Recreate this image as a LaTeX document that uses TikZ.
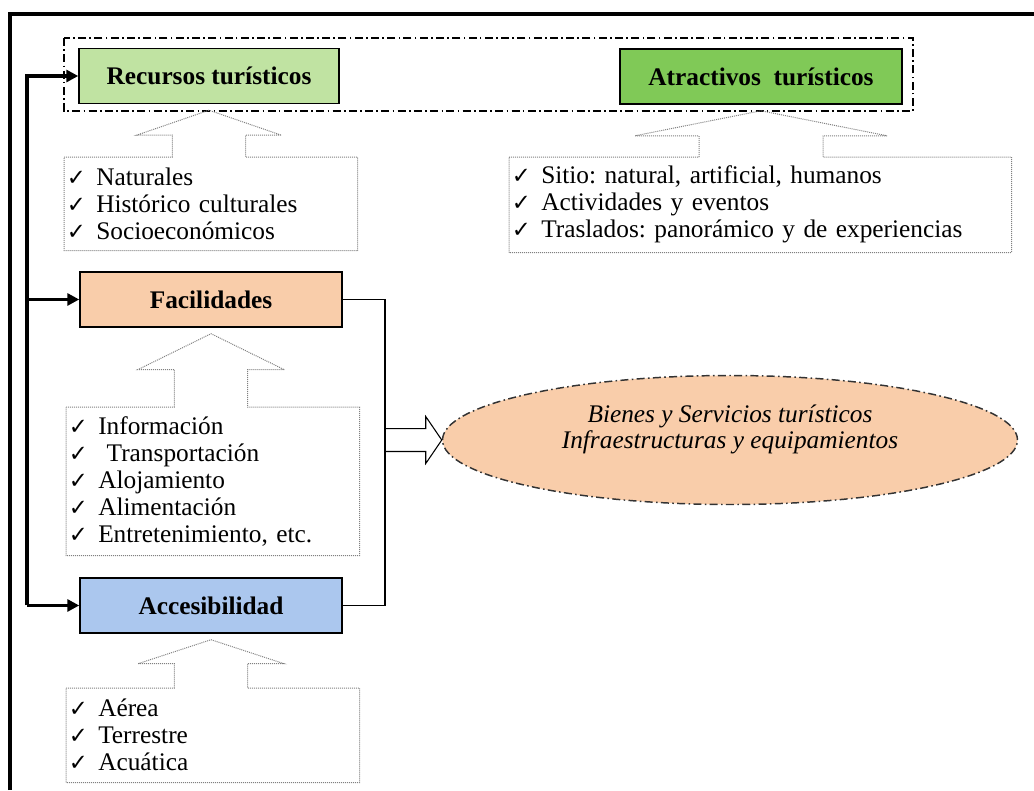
\documentclass[tikz,border=0pt]{standalone}
\usepackage{fontspec}
\setmainfont{Liberation Serif}
\newfontfamily\chkfont{DejaVu Sans}
\usetikzlibrary{shapes.geometric,calc,arrows.meta}
\frenchspacing

\definecolor{verdeclaro}{HTML}{C0E3A2}
\definecolor{verde}{HTML}{80C957}
\definecolor{durazno}{HTML}{F9CDAA}
\definecolor{celeste}{HTML}{ABC7EE}

\newcommand{\chk}{\makebox[22pt][l]{\chkfont\fontsize{17}{17}\selectfont ✓}}
% box, list, head half width, shaft half width, head height
\newcommand{\callout}[5]{%
\draw [punteado] let \p1=(#1.south), \p2=(#2.north west), \p3=(#2.south east) in
  (\x2,\y2) -- (\x1-#4,\y2) -- (\x1-#4,\y1-4.5pt-#5) -- (\x1-#3,\y1-4.5pt-#5) -- (\x1,\y1-4.5pt)
  -- (\x1+#3,\y1-4.5pt-#5) -- (\x1+#4,\y1-4.5pt-#5) -- (\x1+#4,\y2) -- (\x3,\y2) -- (\x3,\y3) -- (\x2,\y3) -- cycle;}

\begin{document}
\begin{tikzpicture}
[every node/.style={inner sep=0pt, font=\fontsize{19}{20.25}\selectfont},
 caja/.style={rectangle, draw=black, line width=1.1pt, minimum height=41.25pt, font=\fontsize{19}{20.25}\selectfont\bfseries},
 lista/.style={anchor=north west, align=left, inner xsep=2pt},
 punteado/.style={draw=gray, line width=0.75pt, dash pattern=on 0.75pt off 0.75pt},
 rayapunto/.style={line width=1.1pt, dash pattern=on 6pt off 2.5pt on 1.2pt off 2.5pt},
 retro/.style={line width=2.4pt, -{Triangle[length=9pt,width=9pt]}},
 enlace/.style={line width=0.8pt}]
\useasboundingbox (0pt,0pt) rectangle (775.5pt,-592.5pt);
\draw [line width=3pt] (7.5pt,-592.5pt) -- (7.5pt,-10.5pt) -- (775.5pt,-10.5pt);
\draw [rayapunto] (48pt,-28.5pt) rectangle (684.75pt,-83.25pt);
\node (rec) [caja, minimum width=195pt, fill=verdeclaro] at (156.75pt, -57pt) {Recursos turísticos};
\node (atr) [caja, minimum width=211.5pt, fill=verde] at (570.75pt, -57.4pt) {Atractivos\ \ turísticos};
\node (fac) [caja, minimum width=196.5pt, fill=durazno] at (158.25pt, -224.6pt) {Facilidades};
\node (acc) [caja, minimum width=196.5pt, fill=celeste] at (158.25pt, -454.1pt) {Accesibilidad};
\node (ell) [ellipse, minimum width=431.25pt, minimum height=96.75pt, fill=durazno, draw=black!80, rayapunto, align=center, font=\fontsize{19}{19.5}\selectfont\itshape] at (547.5pt, -330pt) {Bienes y Servicios turísticos\\Infraestructuras y equipamientos\\\mbox{}};
\node (rlist) [lista, text width=215.75pt, minimum height=69.75pt] at (48pt, -117.75pt) {\chk Naturales\\\chk Histórico culturales\\\chk Socioeconómicos};
\node (alist) [lista, text width=372.5pt, minimum height=71.25pt] at (381.75pt, -117.75pt) {\chk Sitio: natural, artificial, humanos\\\chk Actividades y eventos\\\chk Traslados: panorámico y de experiencias};
\node (flist) [lista, text width=215.75pt, minimum height=111pt] at (49.5pt, -305.25pt) {\chk Información\\\chk\ Transportación\\\chk Alojamiento\\\chk Alimentación\\\chk Entretenimiento, etc.};
\node (clist) [lista, text width=215.75pt, minimum height=70.5pt] at (49.5pt, -516pt) {\chk Aérea\\\chk Terrestre\\\chk Acuática};
\callout{rec}{rlist}{54.4pt}{27.4pt}{18.75pt}
\callout{atr}{alist}{94.5pt}{46.5pt}{18.75pt}
\callout{fac}{flist}{55pt}{27.4pt}{27pt}
\callout{acc}{clist}{54.75pt}{27.4pt}{18pt}
\coordinate (ret) at (20.25pt, 0pt);
\coordinate (junc) at (288.75pt, -330pt);
\draw [retro] (acc.west -| ret) |- (rec.west);
\draw [retro] (ret |- fac.west) -- (fac.west);
\draw [retro] (ret |- acc.west) -- (acc.west);
\draw [enlace] (fac.east) -| (junc) |- (acc.east);
\draw [enlace] let \p1=(junc), \p2=(ell.west) in (\x1,\y1+8.6pt) -- (\x2-12pt,\y1+8.6pt) -- (\x2-12pt,\y1+17.6pt) -- (\x2,\y1) -- (\x2-12pt,\y1-17.6pt) -- (\x2-12pt,\y1-8.6pt) -- (\x1,\y1-8.6pt);
\end{tikzpicture}
\end{document}
